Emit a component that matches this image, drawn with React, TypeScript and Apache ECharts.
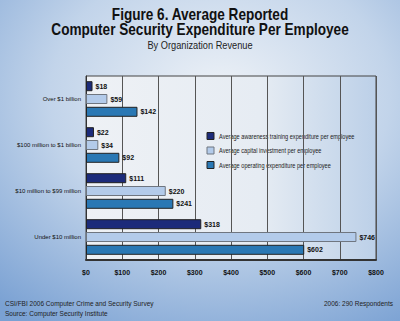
import React, { useEffect, useRef } from "react";
import * as echarts from "echarts";

const categories = ["Over $1 billion", "$100 million to $1 billion", "$10 million to $99 million", "Under $10 million"];
const awareness = [18, 22, 111, 318];
const capital = [59, 34, 220, 746];
const operating = [142, 92, 241, 602];
const seriesNames = [
  "Average awareness training expenditure per employee",
  "Average capital investment per employee",
  "Average operating expenditure per employee",
];
const xTicks = [0, 100, 200, 300, 400, 500, 600, 700, 800];
const titleLines = ["Figure 6. Average Reported", "Computer Security Expenditure Per Employee"];
const subtitle = "By Organization Revenue";
const footerLeft = ["CSI/FBI 2006 Computer Crime and Security Survey", "Source: Computer Security Institute"];
const footerRight = "2006: 290 Respondents";

const FONT = "'Liberation Sans', Arial, sans-serif";

export default function App() {
  const ref = useRef<HTMLDivElement>(null);
  useEffect(() => {
    if (!ref.current) return;
    document.body.style.margin = "0";
    const chart = echarts.init(ref.current, undefined, { renderer: "svg" });
    const label = {
      show: true,
      position: "right",
      distance: 3,
      fontFamily: FONT,
      fontSize: 7,
      fontWeight: "bold",
      color: "#111",
      formatter: (p: any) => "$" + p.value,
    };
    const colors = ["#1c2b7a", "#b3cbea", "#2a78b4"];
    const borders = ["#222", "#6f7680", "#222"];
    const datas = [awareness, capital, operating];

    const graphics: any[] = [];
    titleLines.forEach((t, i) => {
      graphics.push({
        type: "text",
        x: 200,
        y: 15 + i * 15,
        scaleX: 0.85,
        style: { text: t, fontFamily: FONT, fontSize: 16, fontWeight: "bold", fill: "#111", textAlign: "center", textVerticalAlign: "middle" },
      });
    });
    graphics.push({
      type: "text",
      x: 200,
      y: 45,
      scaleX: 0.84,
      style: { text: subtitle, fontFamily: FONT, fontSize: 11, fill: "#222", textAlign: "center", textVerticalAlign: "middle" },
    });
    footerLeft.forEach((t, i) => {
      graphics.push({
        type: "text",
        x: 5,
        y: 303 + i * 10,
        scaleX: 0.93,
        style: { text: t, fontFamily: FONT, fontSize: 7, fill: "#222", textAlign: "left", textVerticalAlign: "middle" },
      });
    });
    graphics.push({
      type: "text",
      x: 393,
      y: 303,
      scaleX: 0.93,
      style: { text: footerRight, fontFamily: FONT, fontSize: 7, fill: "#222", textAlign: "right", textVerticalAlign: "middle" },
    });
    seriesNames.forEach((n, i) => {
      const y = 136 + i * 14.5;
      graphics.push({
        type: "rect",
        shape: { x: 207, y: y - 3.5, width: 7, height: 7 },
        style: { fill: colors[i], stroke: borders[i], lineWidth: 1 },
      });
      graphics.push({
        type: "text",
        x: 219,
        y,
        scaleX: 0.8,
        style: { text: n, fontFamily: FONT, fontSize: 7, fill: "#222", textAlign: "left", textVerticalAlign: "middle" },
      });
    });

    chart.setOption({
      animation: false,
      backgroundColor: new echarts.graphic.RadialGradient(0.55, 0.3, 0.85, [
        { offset: 0, color: "#eef2f7" },
        { offset: 0.5, color: "#c2d4ea" },
        { offset: 1, color: "#7aa1d3" },
      ]),
      legend: { show: false, data: seriesNames },
      grid: {
        left: 86,
        right: 24,
        top: 76,
        bottom: 61,
        outerBoundsMode: "none",
        containLabel: false,
        show: true,
        borderColor: "#444",
        borderWidth: 1,
        backgroundColor: new echarts.graphic.LinearGradient(0, 0, 1, 0, [
          { offset: 0, color: "#eef1f5" },
          { offset: 0.6, color: "#e6ecf3" },
          { offset: 1, color: "#bcd0e8" },
        ]),
      },
      xAxis: {
        type: "value",
        min: 0,
        max: 800,
        interval: 100,
        axisLine: { show: true, lineStyle: { color: "#333", width: 2 } },
        axisTick: { show: false },
        splitLine: { show: true, lineStyle: { color: "#555", width: 1 } },
        axisLabel: {
          margin: 9,
          fontFamily: FONT,
          fontSize: 7,
          fontWeight: "bold",
          color: "#111",
          formatter: (v: number) => (xTicks.includes(v) ? "$" + v : ""),
        },
      },
      yAxis: {
        type: "category",
        inverse: true,
        data: categories,
        axisLine: { show: true, lineStyle: { color: "#333", width: 1 } },
        axisTick: { show: false },
        axisLabel: { margin: 5, fontFamily: FONT, fontSize: 6, color: "#111" },
      },
      series: seriesNames.map((name, i) => ({
        name,
        type: "bar",
        data: datas[i],
        barWidth: 10,
        barGap: "28%",
        itemStyle: { color: colors[i], borderColor: borders[i], borderWidth: 1 },
        label,
      })),
      graphic: graphics,
    });
    return () => chart.dispose();
  }, []);
  return <div ref={ref} style={{ width: 400, height: 321 }} />;
}
